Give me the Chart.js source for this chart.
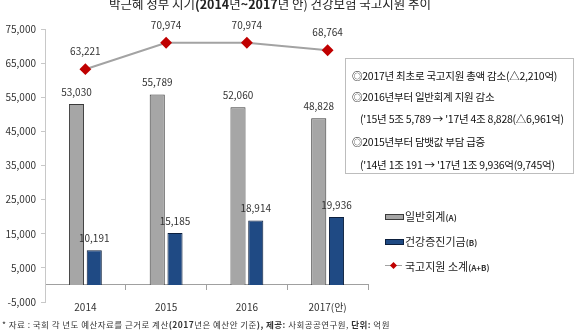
<!DOCTYPE html>
<html>
<head>
<meta charset="utf-8">
<script src="https://cdn.jsdelivr.net/npm/chart.js@4"></script>
<style>
  body { margin: 0; background: #fff; font-family: 'Noto Sans CJK KR', 'Noto Sans', sans-serif; color: #222; }
  .wrap { position: relative; width: 580px; height: 333px; overflow: hidden; }
  canvas { position: absolute; left: 0; top: 0; }
  .title { position: absolute; left: 0; width: 540px; top: -4px; text-align: center; font-size: 12.5px; line-height: 16px; color: #222; }
  .note { position: absolute; left: 345px; top: 58px; width: 229px; height: 116px; border: 1px solid #bdbdbd; box-sizing: border-box; font-size: 10.5px; letter-spacing: -0.25px; color: #111; }
  .note div { position: absolute; white-space: nowrap; line-height: 14px; }
  .legend { position: absolute; left: 385px; top: 208px; font-size: 11px; color: #222; }
  .legend .item { position: absolute; left: 0; white-space: nowrap; height: 16px; line-height: 16px; }
  .legend .sw { position: absolute; left: 0; top: 6px; width: 17px; height: 4px; box-sizing: content-box; }
  .legend .txt { position: absolute; left: 20px; top: 0; }
  .legend small { font-size: 8px; font-weight: bold; color: #333; }
  .foot { position: absolute; left: 2px; top: 318px; font-size: 8.5px; letter-spacing: 0.45px; line-height: 12px; color: #333; white-space: nowrap; }
</style>
</head>
<body>
<div class="wrap">
  <canvas id="myChart" width="580" height="333"></canvas>
  <div class="title">박근혜 정부 시기<b>(2014</b>년<b>~2017</b>년 안) 건강보험 국고지원 추이</div>
  <div class="note">
    <div style="left:6px; top:10px">◎2017년 최초로 국고지원 총액 감소(△2,210억)</div>
    <div style="left:6px; top:31px">◎2016년부터 일반회계 지원 감소</div>
    <div style="left:14px; top:53px">('15년 5조 5,789 → '17년 4조 8,828(△6,961억)</div>
    <div style="left:6px; top:76px">◎2015년부터 담뱃값 부담 급증</div>
    <div style="left:14px; top:99px">('14년 1조 191 → '17년 1조 9,936억(9,745억)</div>
  </div>
  <div class="legend" id="legend"></div>
  <div class="foot">* 자료 : 국회 각 년도 예산자료를 근거로 계산<b>(2017</b>년은 예산안 기준<b>), 제공:</b> 사회공공연구원, <b>단위:</b> 억원</div>
</div>
<script>
const categories = ['2014', '2015', '2016', '2017(안)'];
const generalAccount = [53030, 55789, 52060, 48828];   // 일반회계(A)
const healthFund = [10191, 15185, 18914, 19936];       // 건강증진기금(B)
const totalSupport = [63221, 70974, 70974, 68764];     // 국고지원 소계(A+B)
const yTicks = { min: -5000, max: 75000, step: 10000 };

const fmt = v => v.toLocaleString('en-US');

// value labels above bars and line points
const valueLabels = {
  id: 'valueLabels',
  afterDatasetsDraw(chart) {
    const ctx = chart.ctx;
    ctx.save();
    ctx.font = '10px "Noto Sans CJK KR", sans-serif';
    ctx.fillStyle = '#333';
    ctx.textAlign = 'center';
    ctx.textBaseline = 'middle';
    chart.data.datasets.forEach((ds, i) => {
      const meta = chart.getDatasetMeta(i);
      const gap = ds.type === 'line' ? 18 : 12;
      meta.data.forEach((el, j) => {
        ctx.fillText(fmt(ds.data[j]), el.x, el.y - gap);
      });
    });
    ctx.restore();
  }
};

Chart.defaults.font.family = '"Noto Sans CJK KR", "Noto Sans", sans-serif';
Chart.defaults.color = '#333';

const chart = new Chart(document.getElementById('myChart'), {
  type: 'bar',
  data: {
    labels: categories,
    datasets: [
      {
        label: '일반회계(A)',
        data: generalAccount,
        backgroundColor: '#a6a6a6',
        borderColor: '#3a3a3a',
        borderWidth: 1,
        barPercentage: 0.85,
        categoryPercentage: 0.44,
        order: 1
      },
      {
        label: '건강증진기금(B)',
        data: healthFund,
        backgroundColor: '#1f4a84',
        borderColor: '#0c1f3d',
        borderWidth: 1,
        barPercentage: 0.85,
        categoryPercentage: 0.44,
        order: 1
      },
      {
        type: 'line',
        label: '국고지원 소계(A+B)',
        data: totalSupport,
        borderColor: '#a3a3a3',
        borderWidth: 2,
        pointStyle: 'rectRot',
        pointRadius: 4.5,
        pointBackgroundColor: '#c00000',
        pointBorderColor: '#c00000',
        order: 0
      }
    ]
  },
  options: {
    responsive: false,
    animation: false,
    layout: { padding: { top: 29, right: 212, bottom: 31, left: 0 } },
    plugins: { legend: { display: false }, tooltip: { enabled: false } },
    scales: {
      x: {
        position: { y: 0 },
        offset: true,
        grid: { offset: true, drawOnChartArea: false, tickLength: 5, color: '#a0a0a0' },
        border: { color: '#a0a0a0' },
        ticks: { padding: 11, font: { size: 10 }, color: '#333' }
      },
      y: {
        min: yTicks.min,
        max: yTicks.max,
        grid: { drawOnChartArea: false, tickLength: 4, color: '#c8c8c8' },
        border: { color: '#c8c8c8' },
        ticks: { stepSize: yTicks.step, padding: 5, font: { size: 10 }, color: '#333', callback: v => fmt(v) },
        afterFit(scale) { scale.width = 45; }
      }
    }
  },
  plugins: [valueLabels]
});

// legend from chart datasets
const legendEl = document.getElementById('legend');
chart.data.datasets.forEach((ds, i) => {
  const item = document.createElement('div');
  item.className = 'item';
  item.style.top = (i * 25) + 'px';
  const m = ds.label.match(/^(.*?)(\(.*\))$/);
  let sw;
  if (ds.type === 'line') {
    sw = '<span class="sw" style="top:7px;height:1px;background:' + ds.borderColor + '"></span>' +
         '<span style="position:absolute;left:6px;top:5px;width:5px;height:5px;background:' + ds.pointBackgroundColor + ';transform:rotate(45deg)"></span>';
  } else {
    sw = '<span class="sw" style="background:' + ds.backgroundColor + ';border:1px solid ' + ds.borderColor + '"></span>';
  }
  item.innerHTML = sw + '<span class="txt">' + m[1] + '<small>' + m[2] + '</small></span>';
  legendEl.appendChild(item);
});
</script>
</body>
</html>
